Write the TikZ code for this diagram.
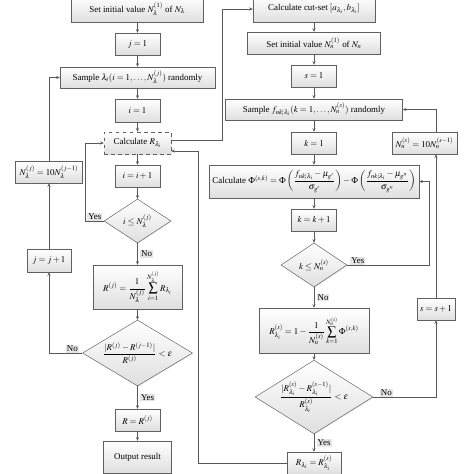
\documentclass[tikz,border=0pt]{standalone}
\usepackage{amsmath}
\usepackage{mathptmx}
\usepackage[no-math]{fontspec}
\setmainfont{Liberation Serif}
\usepackage{tikz}
\usetikzlibrary{arrows.meta,positioning,calc,shapes.geometric,shadows}

\begin{document}
\begin{tikzpicture}[x=0.03cm,y=-0.03cm,
  font=\fontsize{7.6}{9}\selectfont,
  wh/.style 2 args={minimum width=#1*0.03cm,minimum height=#2*0.03cm},
  box/.style={draw=gray!75!black,top color=white,bottom color=gray!25,inner sep=1pt,
    drop shadow={opacity=0.2,shadow xshift=0.6pt,shadow yshift=-0.6pt}},
  dbox/.style={box,dashed},
  decide/.style={box,diamond,inner sep=0pt,aspect=1.6},
  lab/.style={fill=gray!20,inner sep=0.8pt},
  wire/.style={draw=gray!70!black,line width=0.6pt},
  arr/.style={wire,-{Stealth[length=3pt,width=2.6pt]}}]
\useasboundingbox (0,0) rectangle (474,474);

% left loop
\node[box,wh={132}{26}] (init1) at (137.5,9) {Set initial value $N_\lambda^{(1)}$ of $N_\lambda$};
\node[box,wh={45}{22}] (j1) at (137.5,44) {$j=1$};
\node[box,wh={155}{21}] (samplel) at (137.5,77.5) {Sample $\lambda_i(i=1,\ldots,N_\lambda^{(j)})$ randomly};
\node[box,wh={45}{23}] (i1) at (137.5,110.5) {$i=1$};
\node[dbox,wh={67}{22}] (calcR) at (137.5,143) {Calculate $R_{\lambda_i}$};
\node[box,wh={45}{22}] (iinc) at (137.5,176) {$i=i+1$};
\node[decide,wh={67}{44}] (dia1) at (137.5,221) {$i\le N_\lambda^{(j)}$};
\node[box,wh={89}{44}] (Rj) at (137.5,287) {$R^{(j)}=\dfrac{1}{N_\lambda^{(j)}}\displaystyle\sum_{i=1}^{N_\lambda^{(j)}}R_{\lambda_i}$};
\node[decide,wh={110}{66}] (dia2) at (137.5,353) {$\dfrac{|R^{(j)}-R^{(j-1)}|}{R^{(j)}}<\epsilon$};
\node[box,wh={45}{22}] (Rfin) at (137.5,420) {$R=R^{(j)}$};
\node[box,wh={68}{32}] (out) at (137.5,457) {Output result};
\node[box,wh={44}{23}] (jinc) at (49,260.5) {$j=j+1$};
\node[box,wh={67}{22}] (Nl) at (49,172) {$N_\lambda^{(j)}=10N_\lambda^{(j-1)}$};

% right loop
\node[box,wh={122}{26}] (cutset) at (314,9) {Calculate cut-set $[a_{\lambda_i},b_{\lambda_i}]$};
\node[box,wh={133}{22}] (init2) at (314,43) {Set initial value $N_n^{(1)}$ of $N_n$};
\node[box,wh={45}{22}] (s1) at (314,76) {$s=1$};
\node[box,wh={177}{21}] (sampler) at (314,109.5) {Sample $f_{nk|\lambda_i}(k=1,\ldots,N_n^{(s)})$ randomly};
\node[box,wh={45}{22}] (k1) at (314,143) {$k=1$};
\node[box,wh={65}{22}] (Nr) at (424.5,143) {$N_n^{(s)}=10N_n^{(s-1)}$};
\node[box,wh={210}{33}] (calcPhi) at (314,181.5) {Calculate $\Phi^{(s,k)}=\Phi\left(\dfrac{f_{nk|\lambda_i}-\mu_{g'}}{\sigma_{g'}}\right)-\Phi\left(\dfrac{f_{nk|\lambda_i}-\mu_{g''}}{\sigma_{g''}}\right)$};
\node[box,wh={45}{22}] (kinc) at (314,220) {$k=k+1$};
\node[decide,wh={66}{44}] (dia3) at (314,265) {$k\le N_n^{(s)}$};
\node[box,wh={110}{45}] (Rs) at (314,330.5) {$R_{\lambda_i}^{(s)}=1-\dfrac{1}{N_n^{(s)}}\displaystyle\sum_{k=1}^{N_n^{(s)}}\Phi^{(s,k)}$};
\node[decide,wh={110}{66}] (dia4) at (314,397) {$\dfrac{|R_{\lambda_i}^{(s)}-R_{\lambda_i}^{(s-1)}|}{R_{\lambda_i}^{(s)}}<\epsilon$};
\node[box,wh={54}{22}] (Rls) at (314,463) {$R_{\lambda_i}=R_{\lambda_i}^{(s)}$};
\node[box,wh={38}{22}] (splus) at (436,309) {$s=s+1$};

\draw[arr] (init1) -- (j1);
\draw[arr] (j1) -- (samplel);
\draw[arr] (samplel) -- (i1);
\draw[arr] (i1) -- (calcR);
\draw[arr] (calcR) -- (iinc);
\draw[arr] (iinc) -- (dia1);
\draw[arr] (dia1) -- node[lab,right=2pt]{No} (Rj);
\draw[arr] (Rj) -- (dia2);
\draw[arr] (dia2) -- node[lab,right=2pt]{Yes} (Rfin);
\draw[arr] (Rfin) -- (out);
\draw[arr] (dia1.west) -- node[lab,above]{Yes} ++(-18,0) |- (calcR.west);
\draw[arr] (dia2.west) -- node[lab,above,pos=0.3]{No} (jinc |- dia2.west) -- (jinc);
\draw[arr] (jinc) -- (Nl);
\draw[arr] (Nl.north) |- (samplel.west);
\draw[arr] ($(calcR.east)+(0,-3)$) -- ++(51,0) |- (cutset.west);
\draw[arr] (Rls.west) -- ++(-88,0) |- ($(calcR.east)+(0,8)$);

\draw[arr] (cutset) -- (init2);
\draw[arr] (init2) -- (s1);
\draw[arr] (s1) -- (sampler);
\draw[arr] (sampler) -- (k1);
\draw[arr] (k1) -- (calcPhi);
\draw[arr] (calcPhi) -- (kinc);
\draw[arr] (kinc) -- (dia3);
\draw[arr] (dia3) -- node[lab,right=2pt]{No} (Rs);
\draw[arr] (Rs) -- (dia4);
\draw[arr] (dia4) -- node[lab,right=2pt]{Yes} (Rls);
\draw[arr] (dia3.east) -- node[lab,above,pos=0.13]{Yes} ++(82,0) |- (calcPhi.east);
\draw[arr] (dia4.east) -- node[lab,above,pos=0.21]{No} (splus |- dia4.east) -- (splus);
\draw[arr] (splus) -- (splus |- Nr.south);
\draw[arr] (splus |- Nr.north) |- (sampler.east);
\end{tikzpicture}
\end{document}
